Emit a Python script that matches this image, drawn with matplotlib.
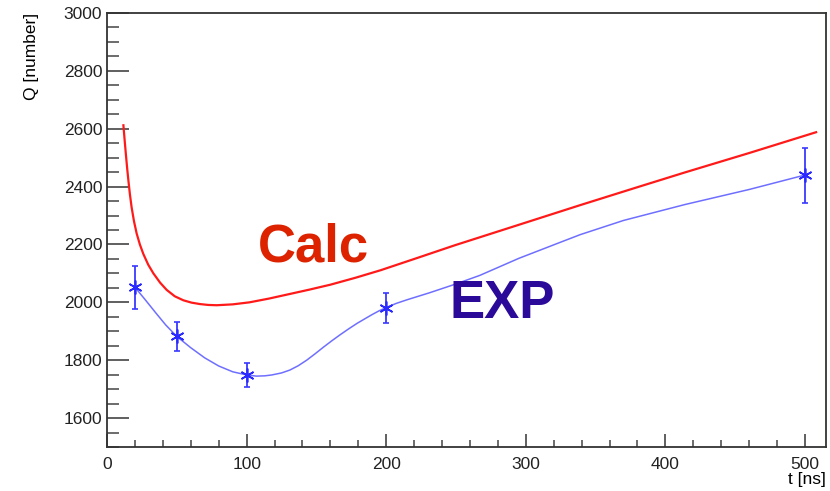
import numpy as np
import matplotlib
matplotlib.use("Agg")
import matplotlib.pyplot as plt
from matplotlib.ticker import MultipleLocator

plt.rcParams['font.family'] = ['Liberation Sans', 'DejaVu Sans']

# measured points (EXP)
t_exp = [20, 50, 100, 200, 500]
q_exp = [2052, 1882, 1749, 1982, 2440]
q_err = [75, 50, 43, 52, 95]

# smooth curve through EXP
t_exp_curve = [20, 27, 35, 42, 50, 60, 70, 80, 90, 100, 107, 113, 118, 125, 131, 137, 143, 149,
               155, 161, 167, 173, 179, 185, 190, 195, 200, 207, 215, 231, 249, 267, 295, 325,
               339, 370, 414, 460, 500]
q_exp_curve = [2052, 2011, 1963, 1922, 1882, 1843, 1808, 1780, 1760, 1749, 1745, 1746, 1749,
               1756, 1766, 1781, 1800, 1822, 1845, 1867, 1888, 1908, 1927, 1944, 1958, 1971,
               1982, 1996, 2009, 2033, 2062, 2093, 2152, 2208, 2234, 2283, 2338, 2390, 2440]

# calculated curve
t_calc = [11.7, 12.6, 13.6, 14.5, 15.3, 16.4, 17.6, 19.3, 21.2, 23.5, 26, 29.5, 33.2, 38,
          42.7, 48.5, 54.7, 60.5, 66.6, 72.5, 78.6, 90, 102, 116, 131, 145, 160, 178, 196,
          222, 249, 295, 339, 380, 414, 460, 508]
q_calc = [2612, 2560, 2505, 2458, 2420, 2372, 2328, 2280, 2238, 2200, 2167, 2130, 2100, 2068,
          2043, 2021, 2007, 1999, 1994, 1991, 1990, 1993, 2000, 2013, 2029, 2044, 2061, 2085,
          2111, 2153, 2197, 2268, 2336, 2398, 2449, 2516, 2588]

fig = plt.figure(figsize=(8.3, 4.91), dpi=100)
ax = fig.add_axes([0.129, 0.0896, 0.866, 0.8839])

ax.plot(t_calc, q_calc, color='#ff1a1a', lw=1.6)
ax.plot(t_exp_curve, q_exp_curve, color='#6f6fff', lw=1.1)
ax.errorbar(t_exp, q_exp, yerr=q_err, fmt='none', ecolor='#3a3aff', elinewidth=1.3,
            capsize=2.5, capthick=1.2)
ax.plot(t_exp, q_exp, ls='none', marker=(6, 2, 0), ms=10, mec='#2a2aff', mew=1.2)

ax.text(148, 2188, 'Calc', color='#dd2200', fontsize=38, fontweight='bold', ha='center', va='center')
ax.text(283, 1993, 'EXP', color='#2b0a9a', fontsize=38, fontweight='bold', ha='center', va='center')

ax.set_xlim(0, 515)
ax.set_ylim(1500, 3000)
ax.xaxis.set_major_locator(MultipleLocator(100))
ax.xaxis.set_minor_locator(MultipleLocator(20))
ax.yaxis.set_major_locator(MultipleLocator(200))
ax.yaxis.set_minor_locator(MultipleLocator(50))
ax.set_yticks([1600, 1800, 2000, 2200, 2400, 2600, 2800, 3000])
ax.tick_params(which='both', direction='in', colors='#444444', labelcolor='#222222', labelsize=12.5)
ax.tick_params(axis='y', which='major', length=15.5, width=1.2)
ax.tick_params(axis='y', which='minor', length=8.5, width=1.1)
ax.tick_params(axis='x', which='major', length=9.5, width=1.2, pad=7)
ax.tick_params(axis='x', which='minor', length=5, width=1.1)
for s in ax.spines.values():
    s.set_color('#333333')
    s.set_linewidth(1.3)

ax.set_xlabel('t [ns]', fontsize=12.5, loc='right', labelpad=0)
ax.set_ylabel('Q [number]', fontsize=12.5, loc='top', labelpad=18)

fig.savefig('out.png', dpi=100)
